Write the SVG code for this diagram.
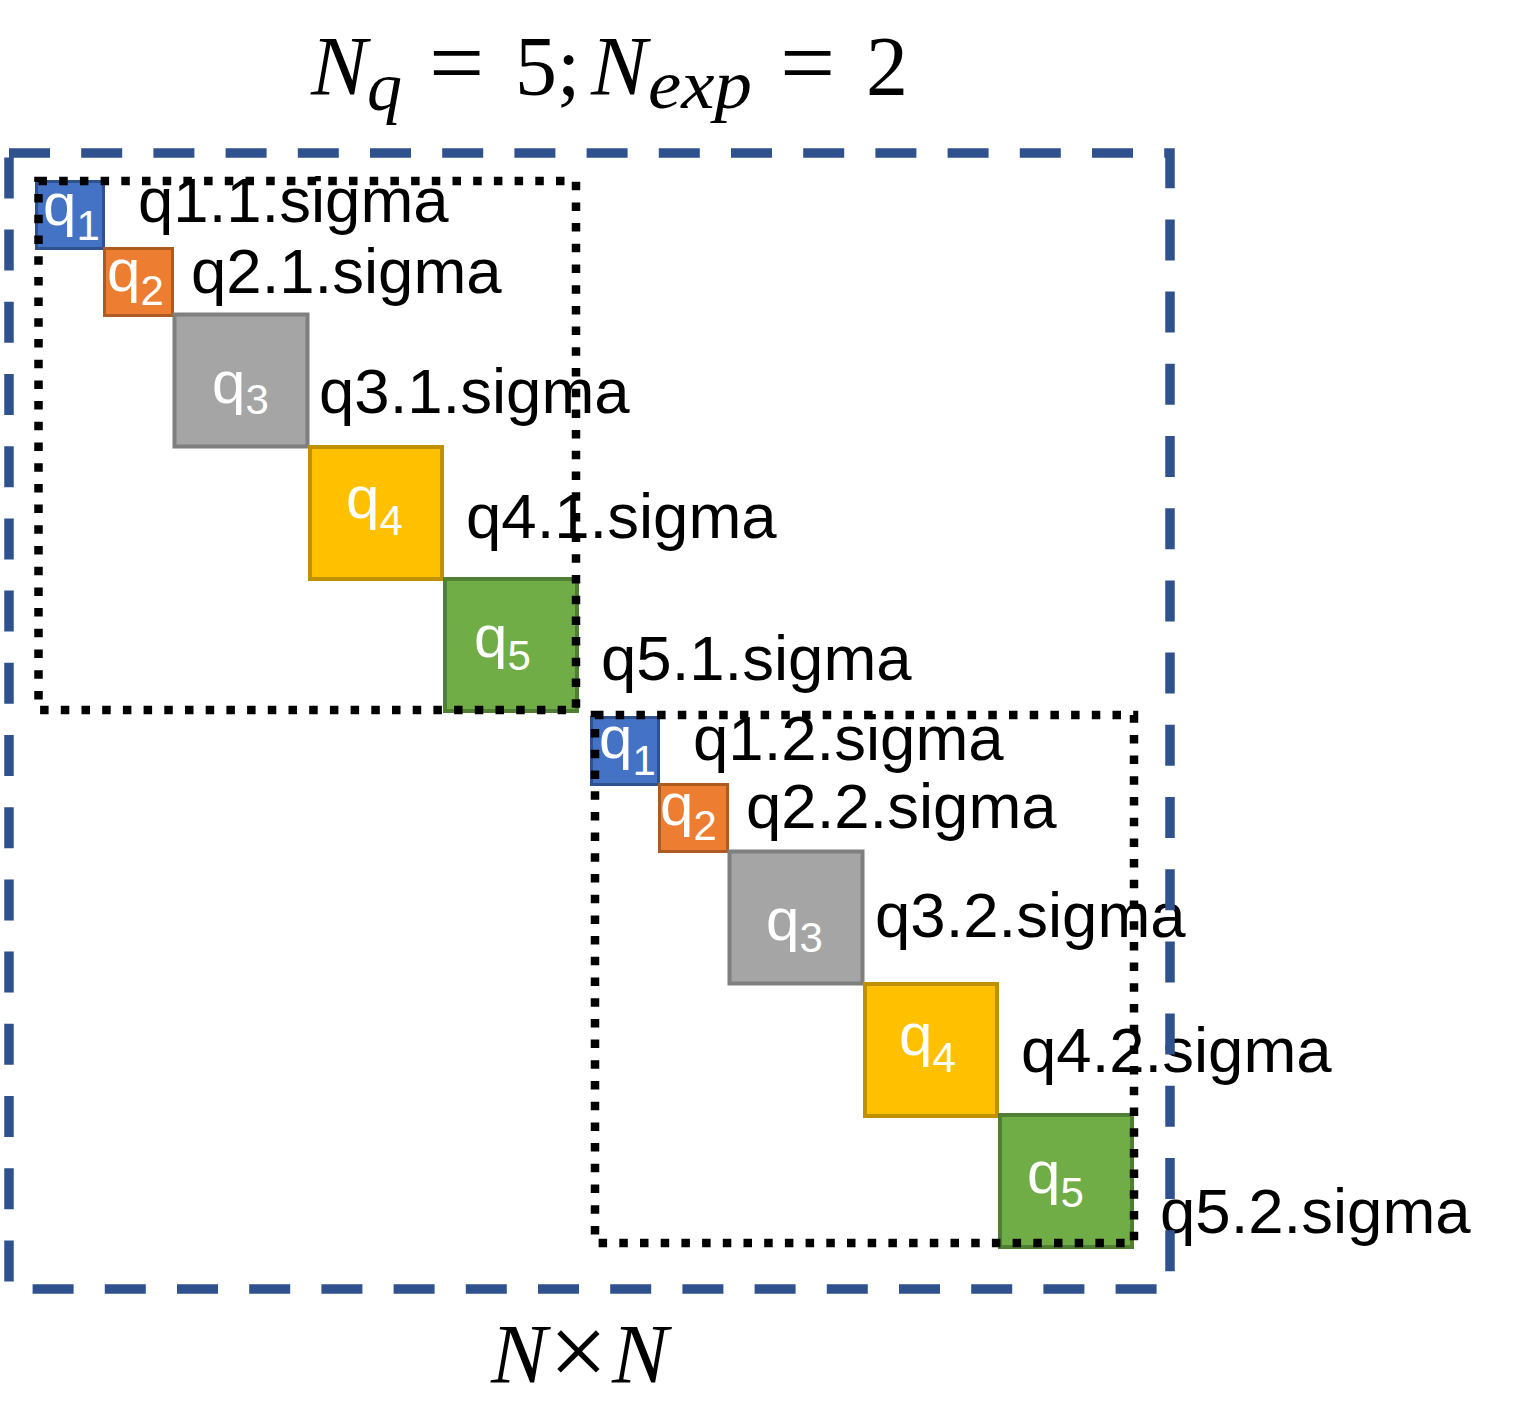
<svg xmlns="http://www.w3.org/2000/svg" width="1517" height="1425" viewBox="0 0 1517 1425">
<style>
.sig{font-family:"Liberation Sans",Arial,sans-serif;font-size:63.5px;fill:#000}
.ql{font-family:"Liberation Sans",Arial,sans-serif;font-size:60px;fill:#fff}
.sub{font-size:42px}
.m{font-family:"Liberation Serif","Times New Roman",serif;fill:#000}
.it{font-style:italic}
.dot{fill:none;stroke:#000;stroke-width:8.5;stroke-dasharray:8.5 12.2}
.dash{fill:none;stroke:#2F528F;stroke-width:9.5;stroke-dasharray:41 31.2}
.b1{fill:#4472C4;stroke:#2F528F;stroke-width:3}
.b2{fill:#ED7D31;stroke:#AE5A21;stroke-width:3}
.b3{fill:#A5A5A5;stroke:#7F7F7F;stroke-width:4}
.b4{fill:#FFC000;stroke:#BF9000;stroke-width:4}
.b5{fill:#70AD47;stroke:#507E32;stroke-width:4}
</style>
<rect width="1517" height="1425" fill="#fff"/>
<g id="title">
<text class="m it" x="311" y="95" font-size="84">N</text>
<text class="m it" x="367" y="110" font-size="70">q</text>
<text class="m" x="429" y="95" font-size="98">=</text>
<text class="m" x="515" y="95" font-size="84">5;</text>
<text class="m it" x="591" y="95" font-size="84">N</text>
<text class="m it" x="648" y="108" font-size="70" textLength="104" lengthAdjust="spacingAndGlyphs">exp</text>
<text class="m" x="780" y="95" font-size="98">=</text>
<text class="m" x="866" y="95" font-size="84">2</text>
</g>
<g id="block1">
<g id="q1_1"><rect class="b1" x="36.5" y="181.5" width="67" height="67"/><text class="ql" x="43" y="225">q<tspan class="sub" dy="15">1</tspan></text><text class="sig" x="138" y="222">q1.1.sigma</text></g>
<g id="q2_1"><rect class="b2" x="104.5" y="248.5" width="68" height="67"/><text class="ql" x="107" y="291">q<tspan class="sub" dy="14">2</tspan></text><text class="sig" x="191" y="293">q2.1.sigma</text></g>
<g id="q3_1"><rect class="b3" x="174.5" y="314.5" width="133" height="132"/><text class="ql" x="212" y="403">q<tspan class="sub" dy="11">3</tspan></text><text class="sig" x="319" y="413">q3.1.sigma</text></g>
<g id="q4_1"><rect class="b4" x="310" y="447" width="132" height="132"/><text class="ql" x="346" y="518">q<tspan class="sub" dy="17">4</tspan></text><text class="sig" x="466" y="538">q4.1.sigma</text></g>
<g id="q5_1"><rect class="b5" x="445" y="579" width="132" height="132"/><text class="ql" x="474" y="657">q<tspan class="sub" dy="13">5</tspan></text><text class="sig" x="601" y="680">q5.1.sigma</text></g>
</g>
<g id="block2">
<g id="q1_2"><rect class="b1" x="591.5" y="717.5" width="67" height="67"/><text class="ql" x="599" y="758">q<tspan class="sub" dy="17">1</tspan></text><text class="sig" x="693" y="760">q1.2.sigma</text></g>
<g id="q2_2"><rect class="b2" x="659.5" y="784.5" width="68" height="67"/><text class="ql" x="660" y="825">q<tspan class="sub" dy="15">2</tspan></text><text class="sig" x="746" y="828">q2.2.sigma</text></g>
<g id="q3_2"><rect class="b3" x="729.5" y="851.5" width="133" height="132"/><text class="ql" x="766" y="940">q<tspan class="sub" dy="12">3</tspan></text><text class="sig" x="875" y="937">q3.2.sigma</text></g>
<g id="q4_2"><rect class="b4" x="865" y="984" width="132" height="132"/><text class="ql" x="899" y="1055">q<tspan class="sub" dy="17">4</tspan></text><text class="sig" x="1021" y="1072">q4.2.sigma</text></g>
<g id="q5_2"><rect class="b5" x="1000" y="1115" width="132" height="132"/><text class="ql" x="1027" y="1193">q<tspan class="sub" dy="14">5</tspan></text><text class="sig" x="1160" y="1233">q5.2.sigma</text></g>
</g>
<g id="frames">
<rect id="group1" class="dot" x="38.5" y="181" width="537.5" height="529"/>
<rect id="group2" class="dot" x="595" y="715" width="539" height="528"/>
<rect id="matrix" class="dash" x="9" y="153" width="1161" height="1136"/>
</g>
<g id="caption">
<text class="m it" x="491" y="1383" font-size="84">N</text>
<text class="m" x="549" y="1386" font-size="104">×</text>
<text class="m it" x="612" y="1383" font-size="84">N</text>
</g>
</svg>
